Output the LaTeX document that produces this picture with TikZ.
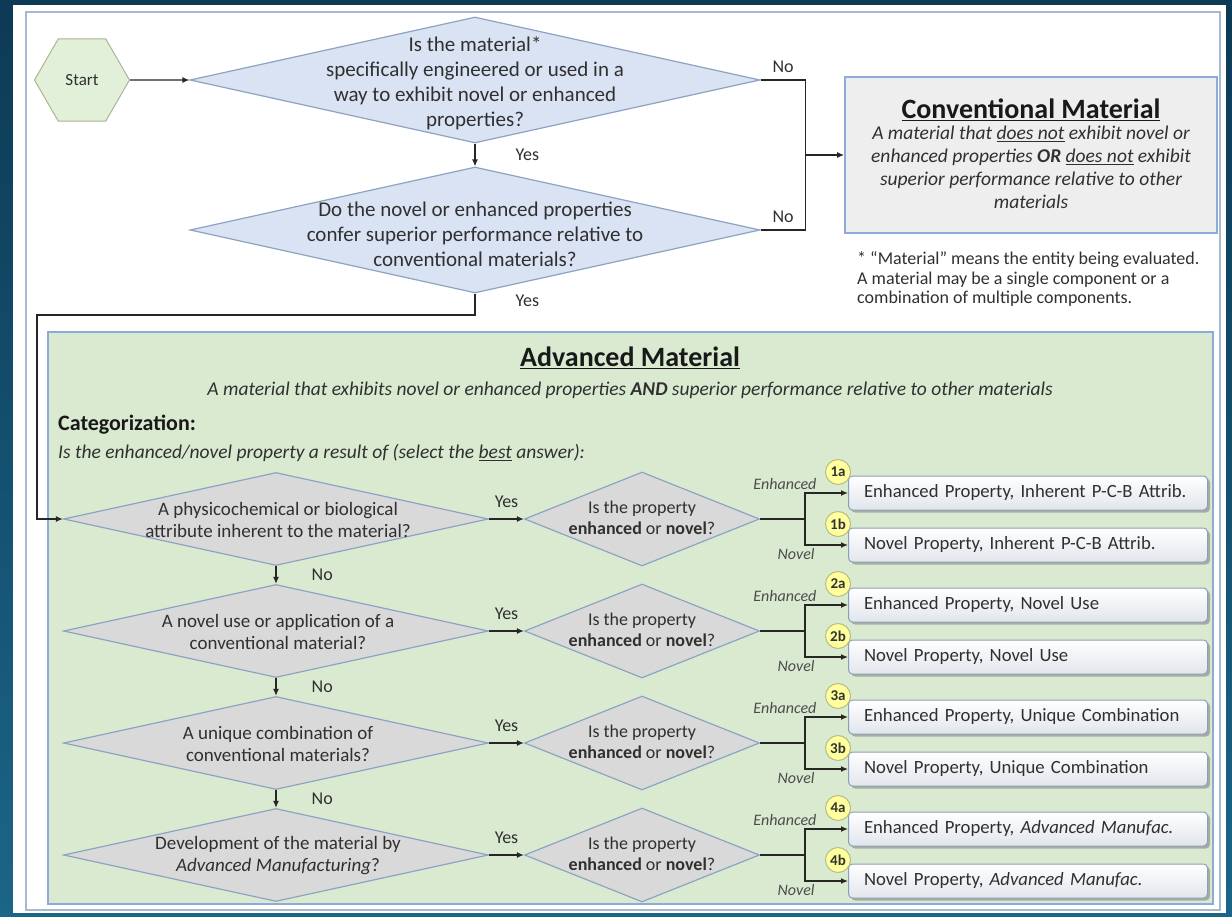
\documentclass[tikz,border=0pt]{standalone}
\usepackage{fontspec}
\setmainfont{Carlito}
\usetikzlibrary{calc,shapes.geometric,arrows.meta,shadows}
\definecolor{navytop}{HTML}{0D3A55}
\definecolor{navybot}{HTML}{1B6588}
\definecolor{panelline}{HTML}{A7B9CC}
\definecolor{boxline}{HTML}{8EAADB}
\definecolor{qblue}{HTML}{DAE3F3}
\definecolor{qline}{HTML}{8DA3C2}
\definecolor{hexfill}{HTML}{E2EFD9}
\definecolor{hexline}{HTML}{A6B893}
\definecolor{convfill}{HTML}{EEEEEE}
\definecolor{advfill}{HTML}{DAEAD1}
\definecolor{qgray}{HTML}{D9D9D9}
\definecolor{resline}{HTML}{8D9FB4}
\definecolor{resbot}{HTML}{E1E5EB}
\definecolor{badgefill}{HTML}{FFFF9C}
\definecolor{badgeline}{HTML}{B9B98C}
\definecolor{txt}{HTML}{303030}
\newcommand\setfs[2]{\fontsize{#1}{#2}\selectfont}
\tikzset{
  conn/.style={line width=1.3pt, draw=black!85},
  arr/.style={conn, -{Latex[length=7pt,width=6pt]}},
  startbox/.style={regular polygon, regular polygon sides=6, minimum size=95pt, inner sep=0pt,
    draw=hexline, fill=hexfill, line width=1pt, text=txt, font=\setfs{17}{20}},
  bigq/.style={diamond, draw=qline, line width=1.2pt, fill=qblue,
    minimum width=570pt, minimum height=126pt, inner sep=0pt},
  catq/.style={diamond, draw=qline, line width=1.2pt, fill=qgray,
    minimum width=425pt, minimum height=93pt, inner sep=0pt},
  propq/.style={diamond, draw=qline, line width=1.2pt, fill=qgray,
    minimum width=235pt, minimum height=94pt, inner sep=0pt},
  convbox/.style={draw=boxline, line width=1.8pt, fill=convfill, minimum width=372pt, minimum height=156pt},
  advbox/.style={draw=boxline, line width=1.8pt, fill=advfill, minimum width=1165pt, minimum height=572pt},
  resbox/.style={anchor=west, draw=resline, line width=1pt, rounded corners=4pt,
    top color=white, bottom color=resbot, minimum height=34pt, text width=328pt,
    inner xsep=15.5pt, inner ysep=0pt, align=left, text=txt, font=\setfs{18.7}{22},
    drop shadow={shadow xshift=2.5pt, shadow yshift=-2.5pt, opacity=0.45, fill=black!60}},
  badge/.style={circle, draw=badgeline, fill=badgefill, line width=1pt, minimum size=25pt,
    inner sep=0pt, text=black!80, font=\setfs{15}{16}\bfseries},
  qtext/.style={align=center, inner sep=0pt, text=txt, font=\setfs{21}{25}},
  rowtext/.style={align=center, inner sep=0pt, text=txt, font=\setfs{19}{22}},
  proptext/.style={align=center, inner sep=0pt, text=txt, font=\setfs{18}{21}},
  titletext/.style={inner sep=0pt, text=black!90, font=\setfs{28}{32}\bfseries},
  bodytext/.style={align=center, inner sep=0pt, text=txt, font=\setfs{19.5}{23}\itshape},
  notetext/.style={align=left, inner sep=0pt, text=txt, font=\setfs{18}{19.5}},
  cattext/.style={inner sep=0pt, text=black!90, font=\setfs{22}{26}\bfseries},
  lbl/.style={inner sep=1pt, text=txt, font=\setfs{18}{20}},
  sublbl/.style={inner sep=0pt, text=black!70, font=\setfs{16}{18}\itshape}
}

\begin{document}
\begin{tikzpicture}[x=1pt,y=-1pt]
		%%%%% BACKGROUND %%%%%
		\useasboundingbox (0,0) rectangle (1232,917);
		\shade[top color=navytop, bottom color=navybot] (0,0) rectangle (1232,917);
		\fill[white] (13,5) rectangle (1226,913);
		\draw[panelline, line width=1.5pt] (26,12) rectangle (1220,910);
		
		%%%%% SCREENING %%%%%
		\node[startbox] (start) at (82,80) {Start};
		\node[bigq] (q1) at (475,80) {};
		\node[qtext] (q1txt) at (475,83) {Is the material*\\specifically engineered or used in a\\way to exhibit novel or enhanced\\properties?};
		\node[bigq] (q2) at (475,230) {};
		\node[qtext] (q2txt) at (475,234) {Do the novel or enhanced properties\\confer superior performance relative to\\conventional materials?};
		
		\draw[arr] (start.east) -- (q1.west);
		\draw[arr] (q1.south) -- node[lbl, right=39pt]{Yes} (q2.north);
		\draw[conn] (q1.east) -- node[lbl, above=6pt]{No} ++(45,0) coordinate (nojoin) |- node[lbl, pos=0.75, above=6pt]{No} (q2.east);
		
		\node[convbox] (conv) at (1031,155) {};
		\node[titletext] (convtitle) at (1031,110) {\underline{Conventional Material}};
		\node[bodytext] (convtxt) at (1031,167) {A material that \underline{does not} exhibit novel or\\enhanced properties \textbf{OR} \underline{does not} exhibit\\superior performance relative to other\\materials};
		\draw[arr] (nojoin |- conv.west) -- (conv.west);
		\node[notetext, anchor=west] (note) at (857,279) {* “Material” means the entity being evaluated.\\A material may be a single component or a\\combination of multiple components.};
		
		%%%%% CATEGORIZATION %%%%%
		\node[advbox] (adv) at (630.5,618) {};
		\node[titletext] (advtitle) at (630,358) {\underline{Advanced Material}};
		\node[bodytext] (advtxt) at (630,390) {A material that exhibits novel or enhanced properties \textbf{AND} superior performance relative to other materials};
		\node[cattext, anchor=west] (cat) at (58,425) {Categorization:};
		\node[bodytext, anchor=west] (catq) at (58,453) {Is the enhanced/novel property a result of (select the \underline{best} answer):};
		
		\node[catq] (r1) at (276,519) {};
		\node[rowtext] (r1txt) at (278,520) {A physicochemical or biological\\attribute inherent to the material?};
		\node[catq] (r2) at (276,631) {};
		\node[rowtext] (r2txt) at (278,632) {A novel use or application of a\\conventional material?};
		\node[catq] (r3) at (276,743) {};
		\node[rowtext] (r3txt) at (278,744) {A unique combination of\\conventional materials?};
		\node[catq] (r4) at (276,855) {};
		\node[rowtext] (r4txt) at (278,856) {Development of the material by\\\textit{Advanced Manufacturing}?};
		
		\coordinate (bend) at (37,315);
		\draw[arr] (q2.south) -- node[lbl, right=39pt, yshift=4pt]{Yes} (q2.south |- bend) -- (bend) |- (r1.west);
		\draw[arr] (r1.south) -- node[lbl, right=34pt]{No} (r2.north);
		\draw[arr] (r2.south) -- node[lbl, right=34pt]{No} (r3.north);
		\draw[arr] (r3.south) -- node[lbl, right=34pt]{No} (r4.north);
		
		\node[propq] (p1) at (642,519) {};
		\node[proptext] (p1txt) at (642,518) {Is the property\\\textbf{enhanced} or \textbf{novel}?};
		\node[propq] (p2) at (642,631) {};
		\node[proptext] (p2txt) at (642,630) {Is the property\\\textbf{enhanced} or \textbf{novel}?};
		\node[propq] (p3) at (642,743) {};
		\node[proptext] (p3txt) at (642,742) {Is the property\\\textbf{enhanced} or \textbf{novel}?};
		\node[propq] (p4) at (642,855) {};
		\node[proptext] (p4txt) at (642,854) {Is the property\\\textbf{enhanced} or \textbf{novel}?};
		
		\draw[arr] (r1.east) -- node[lbl, above=10pt]{Yes} (p1.west);
		\draw[arr] (r2.east) -- node[lbl, above=10pt]{Yes} (p2.west);
		\draw[arr] (r3.east) -- node[lbl, above=10pt]{Yes} (p3.west);
		\draw[arr] (r4.east) -- node[lbl, above=10pt]{Yes} (p4.west);
		
		%%%%% OUTCOMES %%%%%
		\node[resbox] (e1) at (848,493) {Enhanced Property, Inherent P-C-B Attrib.};
		\node[resbox] (n1) at (848,545) {Novel Property, Inherent P-C-B Attrib.};
		\node[resbox] (e2) at (848,605) {Enhanced Property, Novel Use};
		\node[resbox] (n2) at (848,657) {Novel Property, Novel Use};
		\node[resbox] (e3) at (848,717) {Enhanced Property, Unique Combination};
		\node[resbox] (n3) at (848,769) {Novel Property, Unique Combination};
		\node[resbox] (e4) at (848,829) {Enhanced Property, \textit{Advanced Manufac.}};
		\node[resbox] (n4) at (848,881) {Novel Property, \textit{Advanced Manufac.}};
		
		\node[badge] (b1a) at ([shift={(-10,-21)}]e1.west) {1a};
		\node[badge] (b1b) at ([shift={(-10,-21)}]n1.west) {1b};
		\node[badge] (b2a) at ([shift={(-10,-21)}]e2.west) {2a};
		\node[badge] (b2b) at ([shift={(-10,-21)}]n2.west) {2b};
		\node[badge] (b3a) at ([shift={(-10,-21)}]e3.west) {3a};
		\node[badge] (b3b) at ([shift={(-10,-21)}]n3.west) {3b};
		\node[badge] (b4a) at ([shift={(-10,-21)}]e4.west) {4a};
		\node[badge] (b4b) at ([shift={(-10,-21)}]n4.west) {4b};
		
		\draw[arr] (p1.east) -- ++(45,0) |- node[sublbl, anchor=base east, xshift=12pt, yshift=4pt]{Enhanced} (e1.west);
		\draw[arr] (p1.east) -- ++(45,0) |- node[sublbl, anchor=north, xshift=-9pt, yshift=-3pt]{Novel} (n1.west);
		\draw[arr] (p2.east) -- ++(45,0) |- node[sublbl, anchor=base east, xshift=12pt, yshift=4pt]{Enhanced} (e2.west);
		\draw[arr] (p2.east) -- ++(45,0) |- node[sublbl, anchor=north, xshift=-9pt, yshift=-3pt]{Novel} (n2.west);
		\draw[arr] (p3.east) -- ++(45,0) |- node[sublbl, anchor=base east, xshift=12pt, yshift=4pt]{Enhanced} (e3.west);
		\draw[arr] (p3.east) -- ++(45,0) |- node[sublbl, anchor=north, xshift=-9pt, yshift=-3pt]{Novel} (n3.west);
		\draw[arr] (p4.east) -- ++(45,0) |- node[sublbl, anchor=base east, xshift=12pt, yshift=4pt]{Enhanced} (e4.west);
		\draw[arr] (p4.east) -- ++(45,0) |- node[sublbl, anchor=north, xshift=-9pt, yshift=-3pt]{Novel} (n4.west);
		
		%%%%% END %%%%%
\end{tikzpicture}
\end{document}
